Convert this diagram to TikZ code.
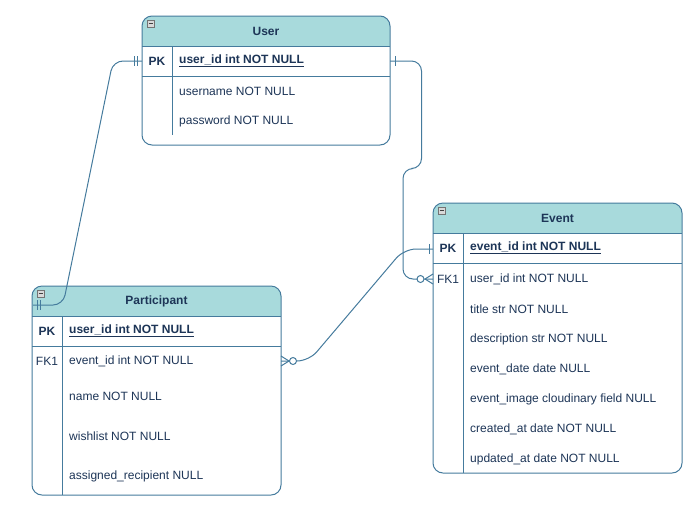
\documentclass[tikz,border=0pt]{standalone}
\usepackage{fontspec}
\setmainfont{Liberation Sans}
\definecolor{hdr}{HTML}{A8DADC}
\definecolor{edge}{HTML}{457B9D}
\definecolor{txt}{HTML}{1D3557}
\tikzset{
  tbl/.style={draw=edge, line width=1pt, rounded corners=10pt, fill=white, inner sep=0pt, outer sep=0pt,
    path picture={\fill[hdr, sharp corners] (path picture bounding box.north west) rectangle ([yshift=-30pt]path picture bounding box.north east);}},
  sepline/.style={draw=edge, line width=1pt},
  fld/.style={anchor=west, inner sep=0pt, text=txt, font=\fontsize{12pt}{14pt}\selectfont},
  keycol/.style={anchor=center, inner sep=0pt, text=txt, font=\fontsize{12pt}{14pt}\selectfont},
  ttl/.style={anchor=center, inner sep=0pt, text=txt, font=\fontsize{12pt}{14pt}\selectfont\bfseries},
  minusbox/.style={draw=black!55, fill=black!15, minimum size=7pt, inner sep=0pt, line width=0.6pt,
    path picture={\draw[black!75, line width=0.8pt] ([xshift=1.5pt]path picture bounding box.west) -- ([xshift=-1.5pt]path picture bounding box.east);}},
  conn/.style={draw=edge, line width=1pt, rounded corners=10pt},
  tick/.style={draw=edge, line width=1pt},
  ring/.style={draw=edge, line width=1pt, fill=white},
}
\begin{document}
\begin{tikzpicture}[x=1pt, y=-1pt]
\useasboundingbox (0,0) rectangle (695,507);

% ---------- User ----------
\node[tbl, minimum width=248pt, minimum height=129pt] (user) at (266,80.5) {};
\draw[sepline] (142,46) -- (390,46);
\draw[sepline] (142,76) -- (390,76);
\draw[sepline] (172,46) -- (172,135);
\node[minusbox] (userMin) at (150.5,23.5) {};
\node[ttl] (userT) at (266,31) {User};
\node[keycol, font=\fontsize{12pt}{14pt}\selectfont\bfseries] (userPK) at (157,61) {PK};
\node[fld, font=\fontsize{12pt}{14pt}\selectfont\bfseries] (userF1) at (179,61) {\underline{user\_id int NOT NULL}};
\node[fld] (userF2) at (179,91) {username NOT NULL};
\node[fld] (userF3) at (179,121) {password NOT NULL};

% ---------- Event ----------
\node[tbl, minimum width=249pt, minimum height=270pt] (event) at (557.5,338) {};
\draw[sepline] (433,233) -- (682,233);
\draw[sepline] (433,263) -- (682,263);
\draw[sepline] (463,233) -- (463,473);
\node[minusbox] (eventMin) at (441.5,210.5) {};
\node[ttl] (eventT) at (557.5,218) {Event};
\node[keycol, font=\fontsize{12pt}{14pt}\selectfont\bfseries] (eventPK) at (448,248) {PK};
\node[fld, font=\fontsize{12pt}{14pt}\selectfont\bfseries] (eventF1) at (470,248) {\underline{event\_id int NOT NULL}};
\node[keycol] (eventFK) at (448,279) {FK1};
\node[fld] (eventF2) at (470,279) {user\_id int NOT NULL};
\node[fld] (eventF3) at (470,309) {title str NOT NULL};
\node[fld] (eventF4) at (470,339) {description str NOT NULL};
\node[fld] (eventF5) at (470,369) {event\_date date NULL};
\node[fld] (eventF6) at (470,399) {event\_image cloudinary field NULL};
\node[fld] (eventF7) at (470,429) {created\_at date NOT NULL};
\node[fld] (eventF8) at (470,459) {updated\_at date NOT NULL};

% ---------- Participant ----------
\node[tbl, minimum width=249pt, minimum height=209pt] (part) at (156.5,390.5) {};
\draw[sepline] (32,316) -- (281,316);
\draw[sepline] (32,346) -- (281,346);
\draw[sepline] (62,316) -- (62,495);
\node[minusbox] (partMin) at (40.5,293.5) {};
\node[ttl] (partT) at (156.5,301) {Participant};
\node[keycol, font=\fontsize{12pt}{14pt}\selectfont\bfseries] (partPK) at (47,331) {PK};
\node[fld, font=\fontsize{12pt}{14pt}\selectfont\bfseries] (partF1) at (69,331) {\underline{user\_id int NOT NULL}};
\node[keycol] (partFK) at (47,361) {FK1};
\node[fld] (partF2) at (69,361) {event\_id int NOT NULL};
\node[fld] (partF3) at (69,396) {name NOT NULL};
\node[fld] (partF4) at (69,436) {wishlist NOT NULL};
\node[fld] (partF5) at (69,476) {assigned\_recipient NULL};

% ---------- connector endpoints ----------
\coordinate (uL) at (142,61);
\coordinate (uR) at (390,61);
\coordinate (pH) at (33,305);
\coordinate (pFK) at (281,361);
\coordinate (ePK) at (433,249);
\coordinate (eFK) at (433,279);

% User PK -- Participant (one-and-only-one both ends)
\draw[conn] (uL) -- (113,61) -- (63,305) -- (pH);
\draw[tick] (134,56) -- (134,66);
\draw[tick] (137,56) -- (137,66);
\draw[tick] (37,300) -- (37,310);
\draw[tick] (40,300) -- (40,310);

% User PK -- Event FK1 (one to zero-or-many)
\draw[conn] (uR) -- (421.5,61) -- (421.5,168.5) -- (403,168.5) -- (403,279) -- (eFK);
\draw[tick] (395,56) -- (395,66);
\draw[tick] (425,279) -- (433,274);
\draw[tick] (425,279) -- (433,284);
\node[ring, circle, minimum size=7pt, inner sep=0pt] (ringE) at (420.5,279) {};

% Event PK -- Participant FK1 (one to zero-or-many)
\draw[conn, rounded corners=12pt] (pFK) -- (309,361) -- (404,249) -- (ePK);
\draw[tick] (429,244) -- (429,254);
\draw[tick] (289,361) -- (281,356);
\draw[tick] (289,361) -- (281,366);
\node[ring, circle, minimum size=7pt, inner sep=0pt] (ringP) at (293,361) {};
\end{tikzpicture}
\end{document}
